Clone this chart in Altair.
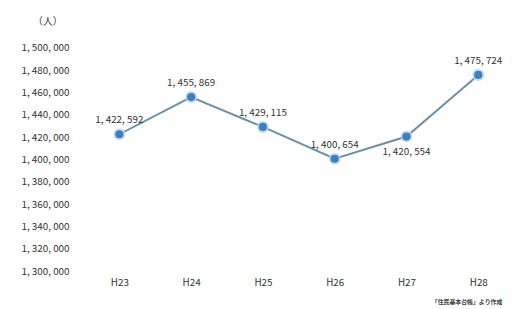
import altair as alt
import pandas as pd

years = ["H23", "H24", "H25", "H26", "H27", "H28"]
population = [1422592, 1455869, 1429115, 1400654, 1420554, 1475724]
below_label = ["H27"]

df = pd.DataFrame({"year": years, "pop": population})
df["label"] = df["pop"].map(lambda v: f"{v:,}".replace(",", ", "))
df["below"] = df["year"].isin(below_label)

FONT = "Noto Sans CJK JP"

x = alt.X("year:N", sort=years, title=None,
          scale=alt.Scale(type="point", padding=0.29),
          axis=alt.Axis(labelAngle=0, ticks=False, domain=False, grid=False,
                        labelFont=FONT, labelFontSize=10, labelColor="#333",
                        labelPadding=7))
y = alt.Y("pop:Q", title="（人）",
          scale=alt.Scale(domain=[1300000, 1500000], zero=False, nice=False),
          axis=alt.Axis(values=list(range(1300000, 1500001, 20000)),
                        labelExpr="replace(format(datum.value, ','), regexp(',', 'g'), ', ')",
                        ticks=False, tickSize=0, domain=False, grid=False,
                        labelFont=FONT, labelFontSize=10, labelColor="#333",
                        labelPadding=30,
                        titleAngle=0, titleX=-52, titleY=-22, titleAlign="center",
                        titleFont=FONT, titleFontSize=10, titleFontWeight="normal",
                        titleColor="#333"))

base = alt.Chart(df).encode(x=x, y=y)

line = base.mark_line(color="#6e8fa6", strokeWidth=2)
halo = base.mark_point(filled=True, size=150, color="#bcd6ee", opacity=0.8)
pts = base.mark_point(filled=True, size=70, color="#3f7fc0", opacity=1)
above = base.transform_filter("!datum.below").mark_text(
    dy=-14, font=FONT, fontSize=10, color="#333").encode(text="label:N")
below = base.transform_filter("datum.below").mark_text(
    dy=16, font=FONT, fontSize=10, color="#333").encode(text="label:N")

chart = alt.layer(line, halo, pts, above, below).properties(
    width=407, height=227,
    autosize=alt.AutoSizeParams(type="none"),
    padding={"left": 92, "top": 38, "right": 5, "bottom": 36},
    background="white",
    title=alt.TitleParams("「住民基本台帳」より作成", orient="bottom", anchor="end",
                          font=FONT, fontSize=6, fontWeight="bold", color="#444",
                          offset=11),
).configure_view(stroke=None)

chart.save("out.html", embed_options={"renderer": "svg", "actions": False})
